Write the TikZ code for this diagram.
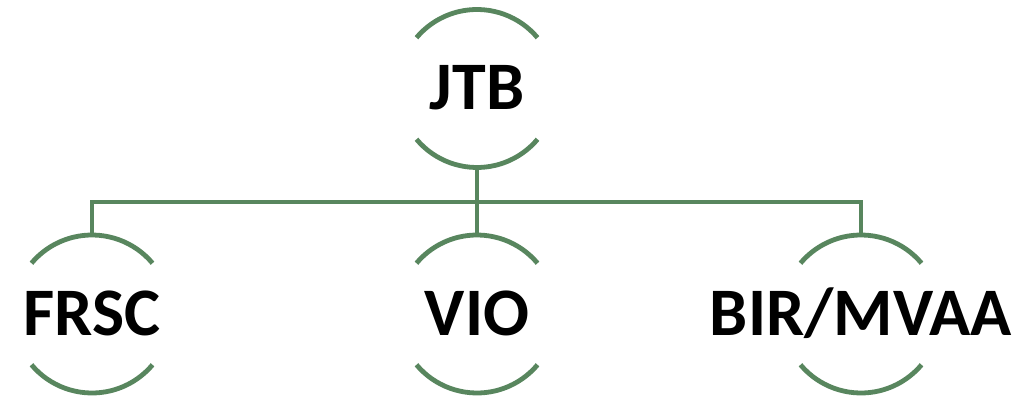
\documentclass[tikz,border=0pt]{standalone}
\usepackage{fontspec}
\setmainfont{Carlito}
\definecolor{branch}{RGB}{88,134,94}

\tikzset{
  ring/.style={circle,minimum size=158pt,inner sep=0pt,outer sep=0pt,draw=none},
  unit_lbl/.style={font=\fontsize{68}{68}\selectfont\bfseries,text=black,
                   inner sep=0pt,text height=43pt,text depth=0pt},
}

\begin{document}
\begin{tikzpicture}[
  x=1pt,y=1pt,
  arc line/.style={line width=4.8pt,draw=branch},
  tree line/.style={line width=4.8pt,draw=branch},
  ]
  \useasboundingbox (0,0) rectangle (1036,-398);

  \node[ring] (jtb)  at (477,-88.5) {};
  \node[ring] (frsc) at (92,-314) {};
  \node[ring] (vio)  at (477,-314) {};
  \node[ring] (bir)  at (861,-314) {};

  \node[unit_lbl] (jtb_txt)  at (jtb)  {JTB};
  \node[unit_lbl] (frsc_txt) at (frsc) {FRSC};
  \node[unit_lbl] (vio_txt)  at (vio)  {VIO};
  \node[unit_lbl] (bir_txt)  at (bir)  {BIR/MVAA};

  \foreach \n in {jtb,frsc,vio,bir}{
    \draw[arc line] (\n.40) arc[start angle=40,end angle=140,radius=79pt];
    \draw[arc line] (\n.220) arc[start angle=220,end angle=320,radius=79pt];
  }

  \coordinate (hub) at (477,-202);
  \draw[tree line] (jtb.south) -- (hub);
  \draw[tree line] (frsc.north) |- (hub) -| (bir.north);
  \draw[tree line] (hub) -- (vio.north);

\end{tikzpicture}
\end{document}
